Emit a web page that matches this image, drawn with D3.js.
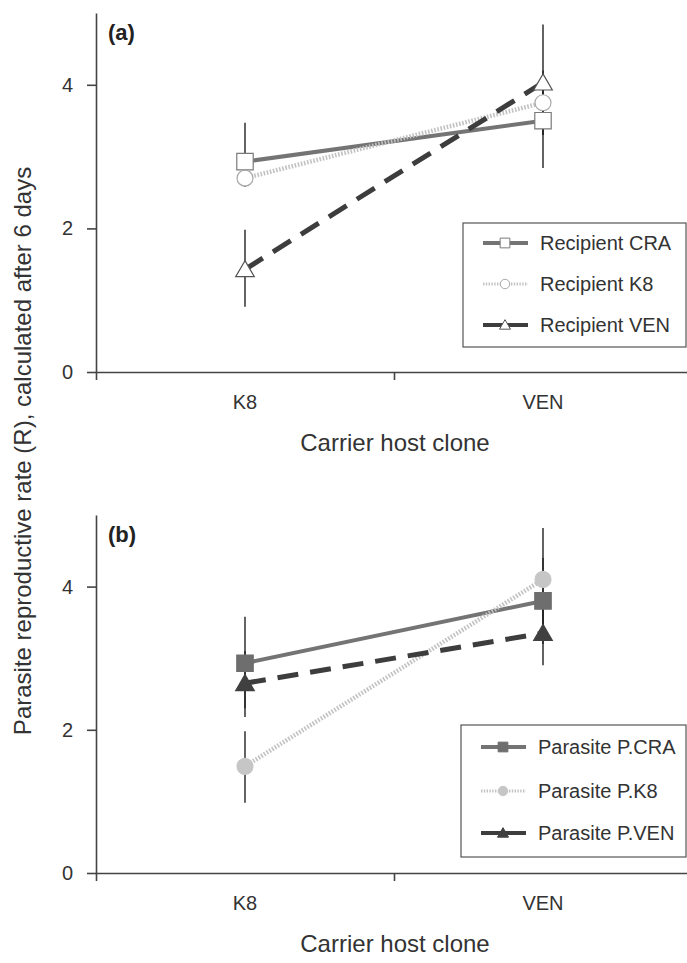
<!DOCTYPE html>
<html>
<head>
<meta charset="utf-8">
<title>Parasite reproductive rate</title>
<script src="https://d3js.org/d3.v7.min.js"></script>
<style>
  body { margin: 0; background: #fff; }
  svg { display: block; font-family: "Liberation Sans", Arial, sans-serif; }
</style>
</head>
<body>
<div id="chart"></div>
<script>
// Data
const hostClones = ["K8", "VEN"]
const yTicks = [0, 2, 4]

const recipientNames = ["Recipient CRA", "Recipient K8", "Recipient VEN"]
const recipientMeans = [[2.93, 3.50], [2.70, 3.75], [1.43, 4.03]]
const recipientLow = [[2.58, 2.84], [2.58, 3.30], [0.91, 3.30]]
const recipientHigh = [[3.47, 4.16], [2.90, 4.20], [1.98, 4.84]]

const parasiteNames = ["Parasite P.CRA", "Parasite P.K8", "Parasite P.VEN"]
const parasiteMeans = [[2.93, 3.80], [1.49, 4.10], [2.65, 3.35]]
const parasiteLow = [[2.30, 3.20], [0.98, 3.40], [2.18, 2.90]]
const parasiteHigh = [[3.58, 4.40], [1.98, 4.82], [3.10, 3.80]]

// Layout
const w = 687
const h = 963
const left = 96
const right = 692

const svg = d3.select("#chart").append("svg")
    .attr("width", w)
    .attr("height", h)

const xLin = d3.scaleLinear().domain([0, 2]).range([left, right])
const xBand = d3.scaleBand().domain(hostClones).range([left, right])
const xPos = c => xBand(c) + xBand.bandwidth() / 2

// series styles: CRA, K8, VEN
const lineColors = ["#747474", "#c2c2c2", "#3d3d3d"]
const lineDash = [null, "1.6,1.6", "21,12"]
const lineWidth = [4, 4.5, 5]
const symbols = [d3.symbolSquare, d3.symbolCircle, d3.symbolTriangle]
const symSize = [270, 200, 150]

const drawPanel = (opts) => {
    const y = d3.scaleLinear().domain([0, 5]).range([opts.bottom, opts.top])
    const g = svg.append("g")

    // axes
    const yAxis = g.append("g")
        .attr("transform", `translate(${left},0)`)
        .call(d3.axisLeft(y).tickValues(yTicks).tickFormat(d3.format("d"))
            .tickSize(9).tickSizeOuter(0).tickPadding(14))
    const xAxis = g.append("g")
        .attr("transform", `translate(0,${opts.bottom})`)
        .call(d3.axisBottom(xLin).tickValues([0, 1, 2]).tickSize(8).tickSizeOuter(0).tickFormat(""))
    ;[yAxis, xAxis].forEach(a => {
        a.select(".domain").attr("stroke", "#444").attr("stroke-width", 1.6)
        a.selectAll(".tick line").attr("stroke", "#444").attr("stroke-width", 1.6)
        a.selectAll(".tick text").attr("font-size", 20).attr("fill", "#333")
            .attr("font-family", "Liberation Sans, Arial, sans-serif")
    })

    // category labels
    g.selectAll(".cat")
        .data(hostClones)
        .enter()
        .append("text")
        .attr("x", d => xPos(d))
        .attr("y", opts.bottom + 37)
        .attr("text-anchor", "middle")
        .attr("font-size", 20)
        .attr("fill", "#333")
        .text(d => d)

    g.append("text")
        .attr("x", 395)
        .attr("y", opts.bottom + 79)
        .attr("text-anchor", "middle")
        .attr("font-size", 24)
        .attr("fill", "#333")
        .text("Carrier host clone")

    g.append("text")
        .attr("x", 108)
        .attr("y", opts.top + 27)
        .attr("font-size", 22)
        .attr("font-weight", "bold")
        .attr("fill", "#222")
        .text(opts.label)

    // error bars
    opts.names.forEach((n, s) => {
        g.selectAll(null)
            .data(hostClones)
            .enter()
            .append("line")
            .attr("x1", d => xPos(d))
            .attr("x2", d => xPos(d))
            .attr("y1", (d, i) => y(opts.low[s][i]))
            .attr("y2", (d, i) => y(opts.high[s][i]))
            .attr("stroke", "#222")
            .attr("stroke-width", 1.4)
    })

    // lines
    const line = d3.line().x((d, i) => xPos(hostClones[i])).y(d => y(d))
    opts.names.forEach((n, s) => {
        g.append("path")
            .datum(opts.means[s])
            .attr("d", line)
            .attr("fill", "none")
            .attr("stroke", lineColors[s])
            .attr("stroke-width", lineWidth[s])
            .attr("stroke-dasharray", lineDash[s])
    })

    // markers
    const markerFill = s => opts.filled ? opts.fills[s] : "#fff"
    const markerStroke = s => opts.filled ? opts.fills[s] : opts.strokes[s]
    opts.names.forEach((n, s) => {
        g.selectAll(null)
            .data(opts.means[s])
            .enter()
            .append("path")
            .attr("transform", (d, i) => `translate(${xPos(hostClones[i])},${y(d) + (s === 2 ? 2 : 0)})`)
            .attr("d", d3.symbol().type(symbols[s]).size(symSize[s]))
            .attr("fill", markerFill(s))
            .attr("stroke", markerStroke(s))
            .attr("stroke-width", 1.2)
    })

    // legend
    const lg = g.append("g")
    lg.append("rect")
        .attr("x", opts.legend.x)
        .attr("y", opts.legend.y)
        .attr("width", w - opts.legend.x - 1)
        .attr("height", opts.legend.h)
        .attr("fill", "#fff")
        .attr("stroke", "#555")
        .attr("stroke-width", 1.2)
    opts.names.forEach((n, s) => {
        const ly = opts.legend.rows[s]
        const lx = opts.legend.x + 20
        lg.append("line")
            .attr("x1", lx).attr("x2", lx + 45)
            .attr("y1", ly).attr("y2", ly)
            .attr("stroke", lineColors[s])
            .attr("stroke-width", s === 1 ? 3 : 4)
            .attr("stroke-dasharray", s === 1 ? "1.4,1.4" : null)
        lg.append("path")
            .attr("transform", `translate(${lx + 22},${ly + (s === 2 ? 1 : 0)})`)
            .attr("d", d3.symbol().type(symbols[s]).size(symSize[s] * 0.35))
            .attr("fill", markerFill(s))
            .attr("stroke", markerStroke(s))
            .attr("stroke-width", 1)
        lg.append("text")
            .attr("x", lx + 57)
            .attr("y", ly)
            .attr("dy", "0.35em")
            .attr("font-size", 20)
            .attr("fill", "#333")
            .text(n)
    })
}

drawPanel({
    top: 13, bottom: 372, label: "(a)",
    names: recipientNames, means: recipientMeans, low: recipientLow, high: recipientHigh,
    filled: false, strokes: ["#7a7a7a", "#a8a8a8", "#555"],
    legend: { x: 463, y: 223, h: 124, rows: [243, 284, 325] }
})

drawPanel({
    top: 515, bottom: 873, label: "(b)",
    names: parasiteNames, means: parasiteMeans, low: parasiteLow, high: parasiteHigh,
    filled: true, fills: ["#6e6e6e", "#c6c6c6", "#404040"],
    legend: { x: 461, y: 725, h: 132, rows: [747, 791, 833] }
})

// shared y axis title
svg.append("text")
    .attr("transform", "translate(31,451) rotate(-90)")
    .attr("text-anchor", "middle")
    .attr("font-size", 24)
    .attr("fill", "#333")
    .text("Parasite reproductive rate (R), calculated after 6 days")
</script>
</body>
</html>
